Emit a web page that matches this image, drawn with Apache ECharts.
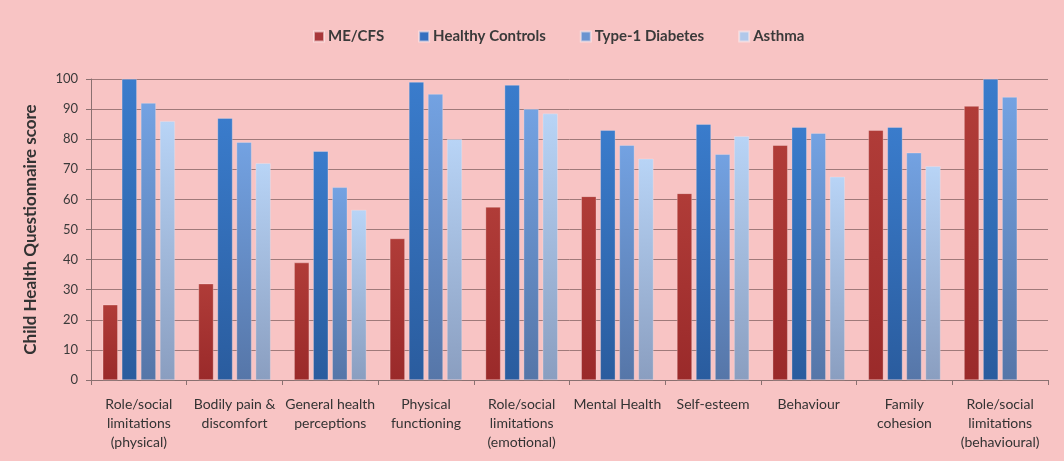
<!DOCTYPE html>
<html>
<head>
<meta charset="utf-8">
<script src="https://cdn.jsdelivr.net/npm/echarts@6/dist/echarts.min.js"></script>
<style>
  html, body { margin: 0; padding: 0; background: #f8c4c4; }
  #chart { width: 1064px; height: 461px; }
</style>
</head>
<body>
<div id="chart"></div>
<script>
const categories = [
  'Role/social\nlimitations\n(physical)',
  'Bodily pain &\ndiscomfort',
  'General health\nperceptions',
  'Physical\nfunctioning',
  'Role/social\nlimitations\n(emotional)',
  'Mental Health',
  'Self-esteem',
  'Behaviour',
  'Family\ncohesion',
  'Role/social\nlimitations\n(behavioural)'
];
const meCfs = [25, 32, 39, 47, 57.5, 61, 62, 78, 83, 91];
const healthyControls = [100, 87, 76, 99, 98, 83, 85, 84, 84, 100];
const type1Diabetes = [92, 79, 64, 95, 90, 78, 75, 82, 75.5, 94];
const asthma = [86, 72, 56.5, 80, 88.5, 73.5, 81, 67.5, 71, null];

const chart = echarts.init(document.getElementById('chart'));

// vertical gradient, top colour -> bottom colour
const grad = (top, bottom) => new echarts.graphic.LinearGradient(0, 0, 0, 1, [
  { offset: 0, color: top },
  { offset: 1, color: bottom }
]);

const barSeries = (name, data, top, bottom) => ({
  name: name,
  type: 'bar',
  data: data,
  barWidth: 15,
  barGap: '27%',
  itemStyle: { color: grad(top, bottom), borderColor: 'rgba(255,235,235,0.6)', borderWidth: 0.5 },
  emphasis: { disabled: true }
});

const option = {
  backgroundColor: '#f8c4c4',
  animation: false,
  textStyle: { fontFamily: 'Lato' },
  legend: {
    top: 24,
    left: 308,
    itemWidth: 10,
    itemHeight: 10,
    itemGap: 34,
    icon: 'rect',
    textStyle: { color: '#3a3a3a', fontSize: 15, fontWeight: 'bold', fontFamily: 'Lato', padding: [0, 0, 0, -1] },
    data: [
      { name: 'ME/CFS', itemStyle: { color: '#a8373a' } },
      { name: 'Healthy Controls', itemStyle: { color: '#3470c0' } },
      { name: 'Type-1 Diabetes', itemStyle: { color: '#6a94d0' } },
      { name: 'Asthma', itemStyle: { color: '#b0c8ea' } }
    ]
  },
  grid: { left: 91, right: 16, top: 79, bottom: 81 },
  xAxis: {
    type: 'category',
    data: categories,
    axisLine: { lineStyle: { color: '#8a7070', width: 1 } },
    axisTick: { show: true, alignWithLabel: false, length: 5, lineStyle: { color: '#8a7070' } },
    axisLabel: {
      color: '#333',
      fontSize: 14,
      lineHeight: 19,
      margin: 15,
      interval: 0,
      fontFamily: 'Lato'
    }
  },
  yAxis: {
    type: 'value',
    min: 0,
    max: 100,
    interval: 10,
    name: 'Child Health Questionnaire score',
    nameLocation: 'middle',
    nameGap: 52,
    nameTextStyle: { color: '#333', fontSize: 17, fontWeight: 'bold', fontFamily: 'Lato' },
    axisLine: { show: true, lineStyle: { color: '#8a7070' } },
    axisTick: { show: true, length: 5, lineStyle: { color: '#8a7070' } },
    axisLabel: { color: '#3a3a3a', fontSize: 13, margin: 13, fontFamily: 'Lato' },
    splitLine: { lineStyle: { color: '#a07a7a', width: 1 } }
  },
  series: [
    barSeries('ME/CFS', meCfs, '#b03c38', '#9a2a2a'),
    barSeries('Healthy Controls', healthyControls, '#3a7ccc', '#2a5c9e'),
    barSeries('Type-1 Diabetes', type1Diabetes, '#73a2e2', '#5676a8'),
    barSeries('Asthma', asthma, '#b8d4f6', '#8a9ec0')
  ]
};

chart.setOption(option);
</script>
</body>
</html>
